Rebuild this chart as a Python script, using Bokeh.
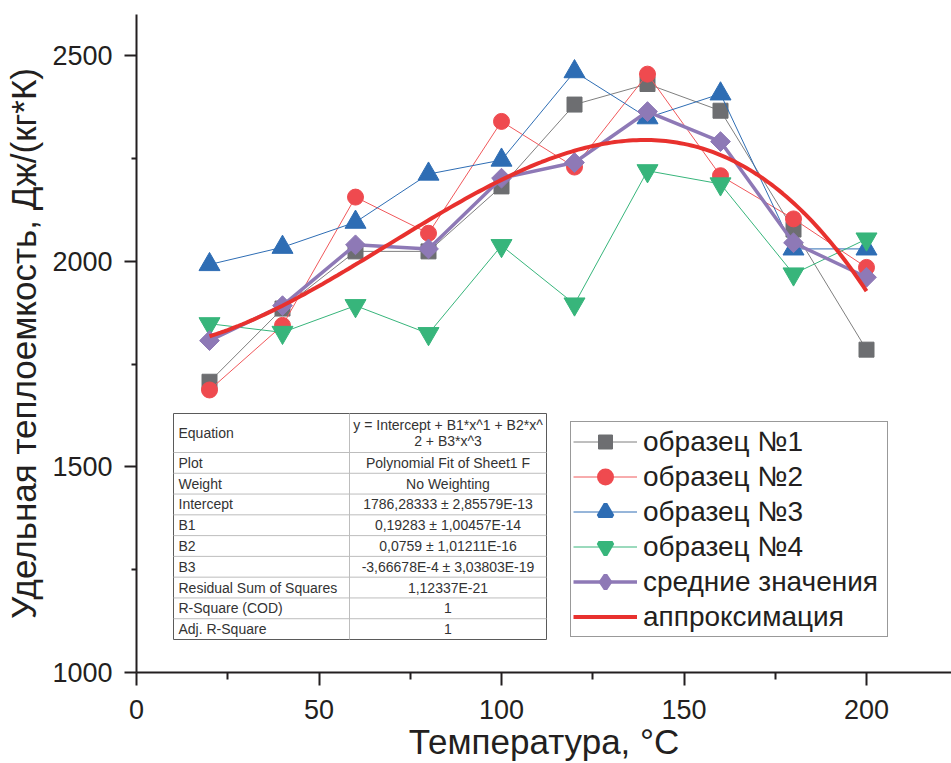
import numpy as np
from bokeh.plotting import figure
from bokeh.models import Range1d, FixedTicker, Legend, LegendItem, ColumnDataSource
from bokeh.core.properties import value
from bokeh.embed import file_html
from bokeh.resources import INLINE

# ---------------- data ----------------
temperature = [20, 40, 60, 80, 100, 120, 140, 160, 180, 200]
sample1 = [1707, 1885, 2024, 2024, 2182, 2381, 2431, 2366, 2077, 1785]
sample2 = [1687, 1844, 2156, 2068, 2340, 2229, 2455, 2208, 2103, 1985]
sample3 = [1992, 2034, 2095, 2212, 2246, 2461, 2349, 2407, 2030, 2030]
sample4 = [1848, 1827, 1892, 1824, 2038, 1896, 2220, 2188, 1969, 2054]
mean_values = [1807, 1892, 2040, 2030, 2202, 2240, 2364, 2291, 2045, 1961]
fit_coefficients = [1786.28333, 0.19283, 0.0759, -3.66678e-4]  # Intercept, B1, B2, B3
fit_x_start, fit_x_end = 20, 200

series_labels = ["образец №1", "образец №2", "образец №3", "образец №4",
                 "средние значения", "аппроксимация"]
x_ticks = [0, 50, 100, 150, 200]
x_minor = [25, 75, 125, 175]
y_ticks = [1000, 1500, 2000, 2500]
y_minor = [1250, 1750, 2250]

table_names = ["Equation", "Plot", "Weight", "Intercept", "B1", "B2", "B3",
               "Residual Sum of Squares", "R-Square (COD)", "Adj. R-Square"]
table_values = [["y = Intercept + B1*x^1 + B2*x^", "2 + B3*x^3"],
                ["Polynomial Fit of Sheet1 F"], ["No Weighting"],
                ["1786,28333 ± 2,85579E-13"], ["0,19283 ± 1,00457E-14"],
                ["0,0759 ± 1,01211E-16"], ["-3,66678E-4 ± 3,03803E-19"],
                ["1,12337E-21"], ["1"], ["1"]]

# ---------------- figure ----------------
W, H = 951, 763
FL, FR, FT, FB = 136, 951, 14, 672
X_END = (FR - FL) / 3.65
Y0, Y1 = 1000, 2600

FONT = "Liberation Sans"
DARK = "#231f20"

p = figure(width=W, height=H, output_backend="svg", toolbar_location=None,
           x_range=Range1d(0, X_END), y_range=Range1d(Y0, Y1),
           min_border_left=FL, min_border_right=0, min_border_top=FT,
           min_border_bottom=H - FB)
p.outline_line_color = None
p.grid.visible = False
p.background_fill_color = "white"
p.border_fill_color = "white"

for ax in (p.xaxis[0], p.yaxis[0]):
    ax.axis_line_width = 2
    ax.axis_line_color = DARK
    ax.major_tick_line_width = 2
    ax.minor_tick_line_width = 2
    ax.major_tick_line_color = DARK
    ax.minor_tick_line_color = DARK
    ax.major_tick_in = 0
    ax.minor_tick_in = 0
    ax.major_label_text_font = FONT
    ax.major_label_text_font_size = "27px"
    ax.major_label_text_color = DARK
    ax.axis_label_text_font = FONT
    ax.axis_label_text_font_style = "normal"
    ax.axis_label_text_color = DARK

p.xaxis.ticker = FixedTicker(ticks=x_ticks, minor_ticks=x_minor)
p.yaxis.ticker = FixedTicker(ticks=y_ticks, minor_ticks=y_minor)
p.xaxis.major_tick_out = 13
p.xaxis.minor_tick_out = 7
p.yaxis.major_tick_out = 12
p.yaxis.minor_tick_out = 5
p.xaxis.major_label_standoff = 14
p.yaxis.major_label_standoff = 12
p.xaxis.axis_label = "Температура, °C"
p.yaxis.axis_label = "Удельная теплоемкость, Дж/(кг*К)"
p.xaxis.axis_label_text_font_size = "35px"
p.yaxis.axis_label_text_font_size = "35px"
p.xaxis.axis_label_standoff = 0
p.yaxis.axis_label_standoff = 6

# ---------------- series ----------------
styles = [
    (sample1, "#7f7f7f", "#6d6e71", "square", 15, 0, 1, "square", 1),
    (sample2, "#f0585b", "#ef4a4f", "circle", 16, 0, 1, "circle", 3),
    (sample3, "#2e6db4", "#2e6db4", "triangle", 21, 0, 1, "triangle", 4),
    (sample4, "#37b57b", "#37b57b", "inverted_triangle", 21, 0, 1, "inverted_triangle", 4),
    (mean_values, "#8e79b6", "#8e79b6", "square", 14, np.pi / 4, 3.5, "diamond", 4),
]
items = []
for (vals, lc, fc, marker, size, angle, lw, lmarker, llw), lab in zip(styles, series_labels):
    src = ColumnDataSource(dict(x=temperature, y=vals))
    lr = p.line("x", "y", source=src, line_color=lc, line_width=lw)
    p.scatter("x", "y", source=src, marker=marker, size=size, angle=angle,
              fill_color=fc, line_color=fc, line_width=1)
    # legend key (not drawn in the plot: no finite coordinates)
    key = p.scatter(x=[np.nan], y=[np.nan], marker=lmarker, size=14,
                    fill_color=fc, line_color=fc, line_width=llw)
    items.append(LegendItem(label=lab, renderers=[lr, key]))

fx = np.linspace(fit_x_start, fit_x_end, 181)
fy = sum(c * fx ** i for i, c in enumerate(fit_coefficients))
fr = p.line(fx, fy, line_color="#e8312e", line_width=4)
items.append(LegendItem(label=series_labels[5], renderers=[fr]))

legend = Legend(items=items, location=(434, 35))
legend.border_line_color = "#333333"
legend.border_line_width = 1
legend.background_fill_color = "white"
legend.background_fill_alpha = 1
legend.label_text_font = FONT
legend.label_text_font_size = "28px"
legend.label_text_color = DARK
legend.glyph_width = 64
legend.glyph_height = 35
legend.label_height = 35
legend.label_width = 242
legend.label_standoff = 6
legend.spacing = 0
legend.padding = 2
legend.margin = 0
p.add_layout(legend)


# ---------------- fit table (pixel layout -> data units) ----------------
def dx(px):
    return X_END * (px - FL) / (FR - FL)


def dy(py):
    return Y0 + (FB - py) * (Y1 - Y0) / (FB - FT)


T_L, T_R, T_M, T_T, T_EQ, T_B = 173, 546, 349, 413, 452, 639
row_h = (T_B - T_EQ) / (len(table_names) - 1)
p.quad(left=dx(T_L), right=dx(T_R), top=dy(T_T), bottom=dy(T_B),
       fill_color="white", line_color="#5a5a5a", line_width=1)
hy = [T_EQ + i * row_h for i in range(len(table_names) - 1)]
p.segment(x0=[dx(T_L)] * len(hy), x1=[dx(T_R)] * len(hy),
          y0=[dy(v) for v in hy], y1=[dy(v) for v in hy],
          line_color="#bdbdbd", line_width=1)
p.segment(x0=[dx(T_M)], x1=[dx(T_M)], y0=[dy(T_T)], y1=[dy(T_B)],
          line_color="#bdbdbd", line_width=1)

name_x, name_y, val_x, val_y, val_t = [], [], [], [], []
for i, (nm, vals) in enumerate(zip(table_names, table_values)):
    if i == 0:
        cy = (T_T + T_EQ) / 2
    else:
        cy = T_EQ + (i - 0.5) * row_h
    name_x.append(dx(T_L + 5))
    name_y.append(dy(cy))
    n = len(vals)
    for k, t in enumerate(vals):
        val_x.append(dx((T_M + T_R) / 2))
        val_y.append(dy(cy + (k - (n - 1) / 2) * 16))
        val_t.append(t)
p.text(x=name_x, y=name_y, text=table_names, text_font=value(FONT),
       text_font_size="14px", text_color="#333333", text_baseline="middle",
       text_align="left")
p.text(x=val_x, y=val_y, text=val_t, text_font=value(FONT),
       text_font_size="14px", text_color="#333333", text_baseline="middle",
       text_align="center")

open("out.html", "w").write(file_html(p, INLINE))
